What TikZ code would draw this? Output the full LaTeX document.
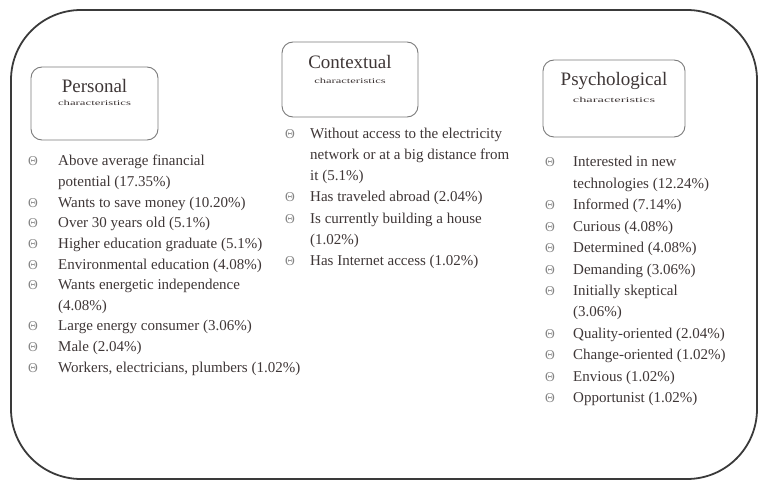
\documentclass[tikz,border=0pt]{standalone}
\usepackage{fontspec}
\setmainfont{Liberation Serif}
\definecolor{framegray}{HTML}{3A3A3A}
\definecolor{boxgray}{HTML}{7A7A7A}
\definecolor{txt}{HTML}{3E3636}
\definecolor{bulgray}{HTML}{858585}
\tikzset{
  frame/.style={draw=framegray, line width=1.8pt, rounded corners=70pt, inner sep=0},
  catbox/.style={draw=boxgray, line width=0.9pt, rounded corners=11pt, inner sep=0},
  ttl/.style={font=\fontsize{19}{22}\selectfont, text=txt, inner sep=0},
  sub/.style={font=\fontsize{12.5}{14}\selectfont, text=txt, inner sep=0},
  itm/.style={font=\fontsize{15}{18}\selectfont, text=txt, inner sep=0, anchor=base west},
  bul/.style={font=\fontsize{13.5}{14}\selectfont, text=bulgray, inner sep=0, anchor=base},
}
\begin{document}
\begin{tikzpicture}[x=1pt,y=-1pt]
\useasboundingbox (0,0) rectangle (760,481);
\node[frame, minimum width=746pt, minimum height=469pt] (frame) at (384,244.5) {};
% category boxes
\node[catbox, minimum width=127pt, minimum height=73pt] (pbox) at (94.5,103.5) {};
\node[catbox, minimum width=136pt, minimum height=75pt] (cbox) at (350,79.5) {};
\node[catbox, minimum width=142pt, minimum height=77pt] (sbox) at (614,98.5) {};
\node[ttl] (ptitle) at (94.5,86) {Personal};
\node[sub] (psub) at (94.5,102.5) {\scalebox{1.02}[0.6]{characteristics}};
\node[ttl] (ctitle) at (350,62) {Contextual};
\node[sub] (csub) at (350,80.5) {\scalebox{1}[0.6]{characteristics}};
\node[ttl] (stitle) at (614,81) {Psychological};
\node[sub] (ssub) at (614,100) {\scalebox{1.15}[0.6]{characteristics}};
% Personal list
\node[bul] (pb1) at (33,166) {Θ};
\node[itm] (p1) at (58,166) {Above average financial};
\node[itm] (p1b) at (58,186.6) {potential (17.35\%)};
\node[bul] (pb2) at (33,207.2) {Θ};
\node[itm] (p2) at (58,207.2) {Wants to save money (10.20\%)};
\node[bul] (pb3) at (33,227.8) {Θ};
\node[itm] (p3) at (58,227.8) {Over 30 years old (5.1\%)};
\node[bul] (pb4) at (33,248.4) {Θ};
\node[itm] (p4) at (58,248.4) {Higher education graduate (5.1\%)};
\node[bul] (pb5) at (33,269) {Θ};
\node[itm] (p5) at (58,269) {Environmental education (4.08\%)};
\node[bul] (pb6) at (33,289.6) {Θ};
\node[itm] (p6) at (58,289.6) {Wants energetic independence};
\node[itm] (p6b) at (58,310.2) {(4.08\%)};
\node[bul] (pb7) at (33,330.8) {Θ};
\node[itm] (p7) at (58,330.8) {Large energy consumer (3.06\%)};
\node[bul] (pb8) at (33,351.4) {Θ};
\node[itm] (p8) at (58,351.4) {Male (2.04\%)};
\node[bul] (pb9) at (33,372) {Θ};
\node[itm] (p9) at (58,372) {Workers, electricians, plumbers (1.02\%)};
% Contextual list
\node[bul] (cb1) at (290,139) {Θ};
\node[itm] (c1) at (310,139) {Without access to the electricity};
\node[itm] (c1b) at (310,160) {network or at a big distance from};
\node[itm] (c1c) at (310,181) {it (5.1\%)};
\node[bul] (cb2) at (290,202) {Θ};
\node[itm] (c2) at (310,202) {Has traveled abroad (2.04\%)};
\node[bul] (cb3) at (290,223) {Θ};
\node[itm] (c3) at (310,223) {Is currently building a house};
\node[itm] (c3b) at (310,244) {(1.02\%)};
\node[bul] (cb4) at (290,265) {Θ};
\node[itm] (c4) at (310,265) {Has Internet access (1.02\%)};
% Psychological list
\node[bul] (sb1) at (550,167) {Θ};
\node[itm] (s1) at (573,167) {Interested in new};
\node[itm] (s1b) at (573,188.4) {technologies (12.24\%)};
\node[bul] (sb2) at (550,209.8) {Θ};
\node[itm] (s2) at (573,209.8) {Informed (7.14\%)};
\node[bul] (sb3) at (550,231.2) {Θ};
\node[itm] (s3) at (573,231.2) {Curious (4.08\%)};
\node[bul] (sb4) at (550,252.6) {Θ};
\node[itm] (s4) at (573,252.6) {Determined (4.08\%)};
\node[bul] (sb5) at (550,274) {Θ};
\node[itm] (s5) at (573,274) {Demanding (3.06\%)};
\node[bul] (sb6) at (550,295.4) {Θ};
\node[itm] (s6) at (573,295.4) {Initially skeptical};
\node[itm] (s6b) at (573,316.8) {(3.06\%)};
\node[bul] (sb7) at (550,338.2) {Θ};
\node[itm] (s7) at (573,338.2) {Quality-oriented (2.04\%)};
\node[bul] (sb8) at (550,359.6) {Θ};
\node[itm] (s8) at (573,359.6) {Change-oriented (1.02\%)};
\node[bul] (sb9) at (550,381) {Θ};
\node[itm] (s9) at (573,381) {Envious (1.02\%)};
\node[bul] (sb10) at (550,402.4) {Θ};
\node[itm] (s10) at (573,402.4) {Opportunist (1.02\%)};
\end{tikzpicture}
\end{document}
